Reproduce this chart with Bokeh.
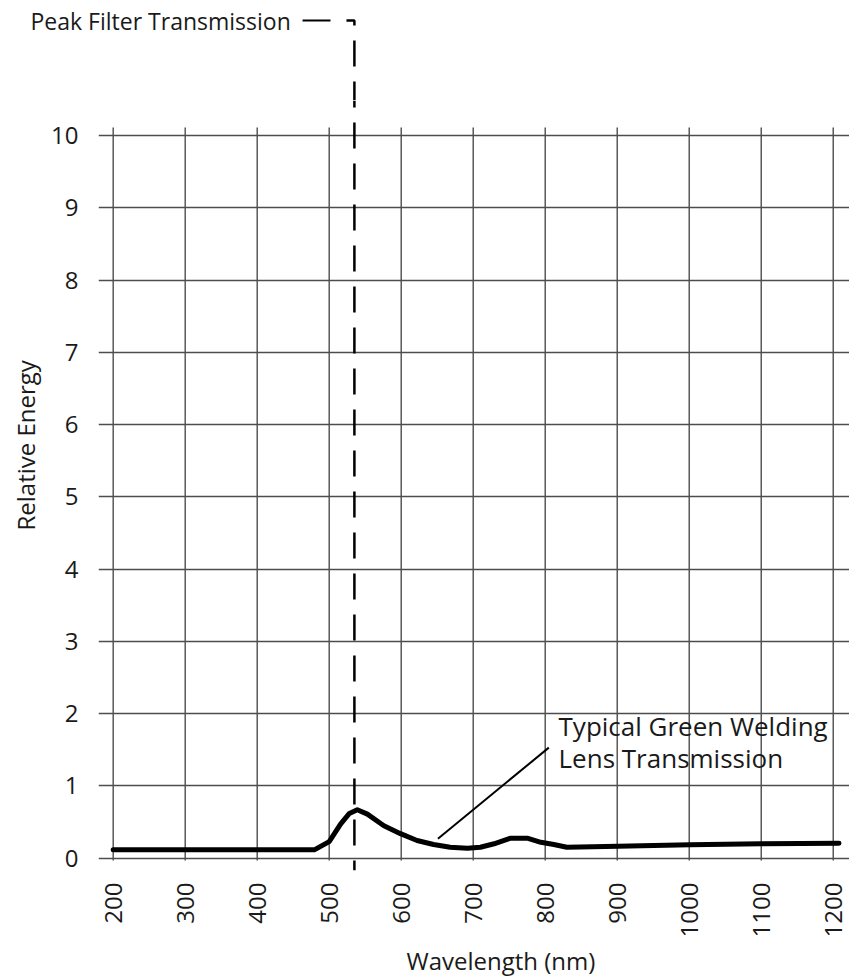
import math
from bokeh.plotting import figure
from bokeh.models import Range1d, FixedTicker, Title
from bokeh.core.properties import value
from bokeh.embed import file_html
from bokeh.resources import INLINE

# ---- data ----
wavelength = [200, 300, 400, 460, 480, 500, 516, 528, 539, 553, 576, 599, 622, 645,
              668, 692, 710, 729, 752, 775, 794, 812, 830, 901, 1001, 1100, 1208]
energy = [0.116, 0.116, 0.116, 0.116, 0.118, 0.23, 0.476, 0.62, 0.67, 0.61, 0.45, 0.34,
          0.245, 0.19, 0.152, 0.138, 0.152, 0.2, 0.277, 0.277, 0.22, 0.19, 0.152, 0.166,
          0.185, 0.2, 0.208]
x_ticks = [200, 300, 400, 500, 600, 700, 800, 900, 1000, 1100, 1200]
y_ticks = [0, 1, 2, 3, 4, 5, 6, 7, 8, 9, 10]
peak_wavelength = 535
peak_label = "Peak Filter Transmission"
lens_label = ["Typical Green Welding", "Lens Transmission"]
x_title = "Wavelength (nm)"
y_title = "Relative Energy"

FONT = "Open Sans"
INK = "#1a1a1a"
GRID = "#4d4d4d"
DASH = "26 15"

# shared scale: 0.72 px per nm, 72.27 px per energy unit
X0, X1 = 179.6, 1222.6          # main frame (751 px wide, from page x=98)
XT0 = 43.5                       # top strip starts at page left (849 px)
Y_SPLIT = 10.484                 # value at the boundary between the two strips (y=100px)
Y_PAGE_TOP = 11.868
Y_MAIN_BOT = -0.170
GRID_Y0, GRID_Y1 = -0.032, 10.111

# ---------------- top strip (peak label + start of dashed marker) ----------------
top = figure(frame_width=849, frame_height=100, output_backend="svg",
             toolbar_location=None, x_range=Range1d(XT0, X1),
             y_range=Range1d(Y_SPLIT, Y_PAGE_TOP), x_axis_location=None,
             y_axis_location=None, min_border=0)
top.min_border_left = top.min_border_right = 0
top.min_border_top = top.min_border_bottom = 0
top.outline_line_color = None
top.grid.visible = False
top.text(x=[85.2], y=[11.591], text=[peak_label], text_font=value(FONT),
         text_font_size="23px", text_color=INK, text_baseline="middle")
top.line([463, 501.8], [11.591, 11.591], line_color="black", line_width=2)
top.line([524, peak_wavelength, peak_wavelength], [11.591, 11.591, 11.522],
         line_color="black", line_width=2.5)
top.line([peak_wavelength, peak_wavelength], [11.315, 10.3], line_color="black",
         line_width=2.5, line_dash=DASH)

# ---------------- main chart ----------------
p = figure(frame_width=751, frame_height=770, output_backend="svg",
           toolbar_location=None, x_range=Range1d(X0, X1),
           y_range=Range1d(Y_MAIN_BOT, Y_SPLIT),
           min_border_left=98, min_border_right=0, min_border_top=0,
           min_border_bottom=109)
p.outline_line_color = None

# grid: horizontal lines via grid, vertical lines as segments bounded like the reference
p.xgrid.visible = False
p.ygrid.ticker = FixedTicker(ticks=y_ticks)
p.ygrid.grid_line_color = GRID
p.ygrid.grid_line_width = 1.4
p.segment(x0=x_ticks, y0=[GRID_Y0] * len(x_ticks), x1=x_ticks,
          y1=[GRID_Y1] * len(x_ticks), line_color=GRID, line_width=1.4)

# axes
p.xaxis.ticker = FixedTicker(ticks=x_ticks)
p.yaxis.ticker = FixedTicker(ticks=y_ticks)
for ax in (p.xaxis, p.yaxis):
    ax.axis_line_color = None
    ax.major_tick_line_color = None
    ax.minor_tick_line_color = None
    ax.major_tick_out = 0
    ax.major_tick_in = 0
    ax.major_label_text_font = FONT
    ax.major_label_text_font_size = "24px"
    ax.major_label_text_color = INK
p.xaxis.major_label_orientation = math.pi / 2
p.xaxis.major_label_standoff = 12
p.yaxis.major_label_standoff = 20

p.add_layout(Title(text=x_title, align="left", offset=308, standoff=3,
                   text_font=FONT, text_font_size="24px", text_font_style="normal",
                   text_color=INK), "below")
p.add_layout(Title(text=y_title, align="left", offset=340, standoff=13,
                   text_font=FONT, text_font_size="24px", text_font_style="normal",
                   text_color=INK), "left")

# curve
p.line(wavelength, energy, line_color="black", line_width=5, line_join="round",
       line_cap="round")

# dashed peak marker (continues from the top strip)
p.line([peak_wavelength, peak_wavelength], [Y_SPLIT, Y_MAIN_BOT], line_color="black",
       line_width=2.5, line_dash=DASH, line_dash_offset=19)

# lens annotation
p.segment(x0=[651], y0=[0.27], x1=[805], y1=[1.53], line_color="black", line_width=2)
p.text(x=[818.5, 818.5], y=[1.836, 1.382], text=lens_label, text_font=value(FONT),
       text_font_size="26px", text_color=INK, text_baseline="middle")

open("out.html", "w").write(file_html([top, p], INLINE))
